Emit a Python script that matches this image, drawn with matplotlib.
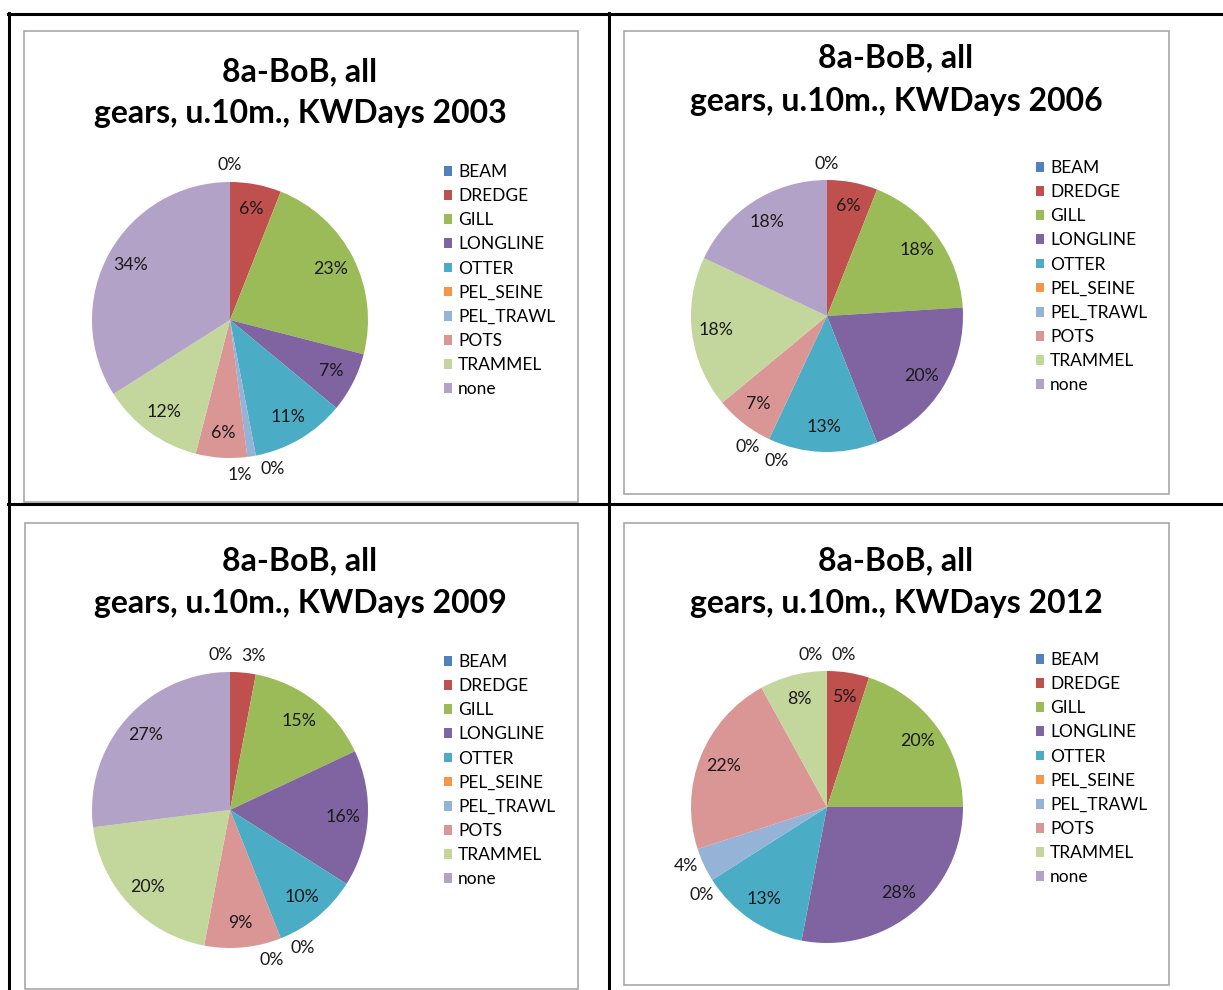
import matplotlib
matplotlib.use("Agg")
import matplotlib.pyplot as plt
from matplotlib.patches import Rectangle, Patch
from matplotlib.lines import Line2D
import numpy as np

# ---------------- data ----------------
gears = ["BEAM", "DREDGE", "GILL", "LONGLINE", "OTTER", "PEL_SEINE",
         "PEL_TRAWL", "POTS", "TRAMMEL", "none"]
gear_colors = ["#4F81BD", "#C0504D", "#9BBB59", "#8064A2", "#4BACC6",
               "#F79646", "#95B3D7", "#D99694", "#C3D69B", "#B3A2C7"]
years = [2003, 2006, 2009, 2012]
share_2003 = [0, 6, 23, 7, 11, 0, 1, 6, 12, 34]
share_2006 = [0, 6, 18, 20, 13, 0, 0, 7, 18, 18]
share_2009 = [0, 3, 15, 16, 10, 0, 0, 9, 20, 27]
share_2012 = [0, 5, 20, 28, 13, 0, 4, 22, 8, 0]
shares = [share_2003, share_2006, share_2009, share_2012]
title_line1 = "8a-BoB, all"
title_line2 = "gears, u.10m., KWDays {}"

# ---------------- layout (pixels) ----------------
W, H = 1223, 990
FONT = ["Lato", "DejaVu Sans"]
plt.rcParams["font.family"] = FONT

fig = plt.figure(figsize=(W / 100, H / 100), dpi=100)


def fx(x):
    return x / W


def fy(y):
    return 1 - y / H


panels = [
    dict(box=(24, 31, 578, 502), tx=300, ty=(72, 113), c=(230, 320), r=138, leg=(444, 164)),
    dict(box=(624, 31, 1169, 494), tx=896, ty=(58, 101), c=(827, 316), r=136, leg=(1036, 160)),
    dict(box=(25, 523, 578, 989), tx=300, ty=(561, 604), c=(230, 810), r=138, leg=(444, 654)),
    dict(box=(624, 523, 1169, 985), tx=896, ty=(561, 603), c=(827, 807), r=136, leg=(1036, 652)),
]

# table grid lines
grid_kw = dict(color="black", lw=2.2, transform=fig.transFigure, zorder=5)
fig.add_artist(Line2D([fx(8), fx(W)], [fy(14), fy(14)], **grid_kw))
fig.add_artist(Line2D([fx(8), fx(W)], [fy(503.5), fy(503.5)], **grid_kw))
fig.add_artist(Line2D([fx(9), fx(9)], [fy(13), fy(H)], **grid_kw))
fig.add_artist(Line2D([fx(609), fx(609)], [fy(13), fy(H)], **grid_kw))

LBL_SIZE = 12.8
LEG_SIZE = 12.5
TITLE_SIZE = 23

for p, year, vals in zip(panels, years, shares):
    x0, y0, x1, y1 = p["box"]
    fig.add_artist(Rectangle((fx(x0), fy(y1)), (x1 - x0) / W, (y1 - y0) / H,
                             transform=fig.transFigure, facecolor="white",
                             edgecolor="#A8A8A8", lw=1.2, zorder=1))
    fig.text(fx(p["tx"]), fy(p["ty"][0]), title_line1, ha="center", va="center",
             fontsize=TITLE_SIZE, fontweight="bold", zorder=3)
    fig.text(fx(p["tx"]), fy(p["ty"][1]), title_line2.format(year), ha="center",
             va="center", fontsize=TITLE_SIZE, fontweight="bold", zorder=3)

    cx, cy = p["c"]
    r = p["r"]
    ext = 1.3
    ax = fig.add_axes([fx(cx - ext * r), fy(cy + ext * r), 2 * ext * r / W, 2 * ext * r / H])
    ax.set_zorder(4)
    wedges, _ = ax.pie(vals, colors=gear_colors, startangle=90, counterclock=False,
                       radius=1)
    ax.set_xlim(-ext, ext)
    ax.set_ylim(-ext, ext)
    ax.axis("off")

    # labels
    mids = [np.deg2rad((w.theta1 + w.theta2) / 2) for w in wedges]
    outside = [i for i, v in enumerate(vals) if v < 5]
    for i, v in enumerate(vals):
        if v >= 5:
            d = 0.82
            ax.text(d * np.cos(mids[i]), d * np.sin(mids[i]), f"{v:.0f}%",
                    ha="center", va="center", fontsize=LBL_SIZE, color="#1a1a1a")
    rout = 1.12
    base = {i: rout * np.array([np.cos(mids[i]), np.sin(mids[i])]) for i in outside}
    groups = []
    for i in outside:
        if groups and np.linalg.norm(base[groups[-1][-1]] - base[i]) < 0.3:
            groups[-1].append(i)
        else:
            groups.append([i])
    if len(groups) > 1 and np.linalg.norm(base[groups[-1][-1]] - base[groups[0][0]]) < 0.3:
        groups[0] = groups[-1] + groups[0]
        groups.pop()
    spacing = 0.24
    for g in groups:
        uv = np.mean([[np.cos(mids[i]), np.sin(mids[i])] for i in g], axis=0)
        m = np.arctan2(uv[1], uv[0])
        mean_pos = rout * np.array([np.cos(m), np.sin(m)])
        tang = np.array([np.sin(m), -np.cos(m)])
        n = len(g)
        for k, i in enumerate(g):
            pos = mean_pos + (k - (n - 1) / 2) * spacing * tang
            ax.text(pos[0], pos[1], f"{vals[i]:.0f}%", ha="center", va="center",
                    fontsize=LBL_SIZE, color="#1a1a1a")

    handles = [Patch(facecolor=c, edgecolor="none") for c in gear_colors]
    lx, ly = p["leg"]
    fig.legend(handles, gears, loc="upper left",
               bbox_to_anchor=(fx(lx), fy(ly)), bbox_transform=fig.transFigure,
               frameon=False, fontsize=LEG_SIZE, borderpad=0, borderaxespad=0,
               handlelength=0.48, handleheight=0.48, handletextpad=0.32,
               labelspacing=0.47)

fig.savefig("out.png", dpi=100, facecolor="white")
